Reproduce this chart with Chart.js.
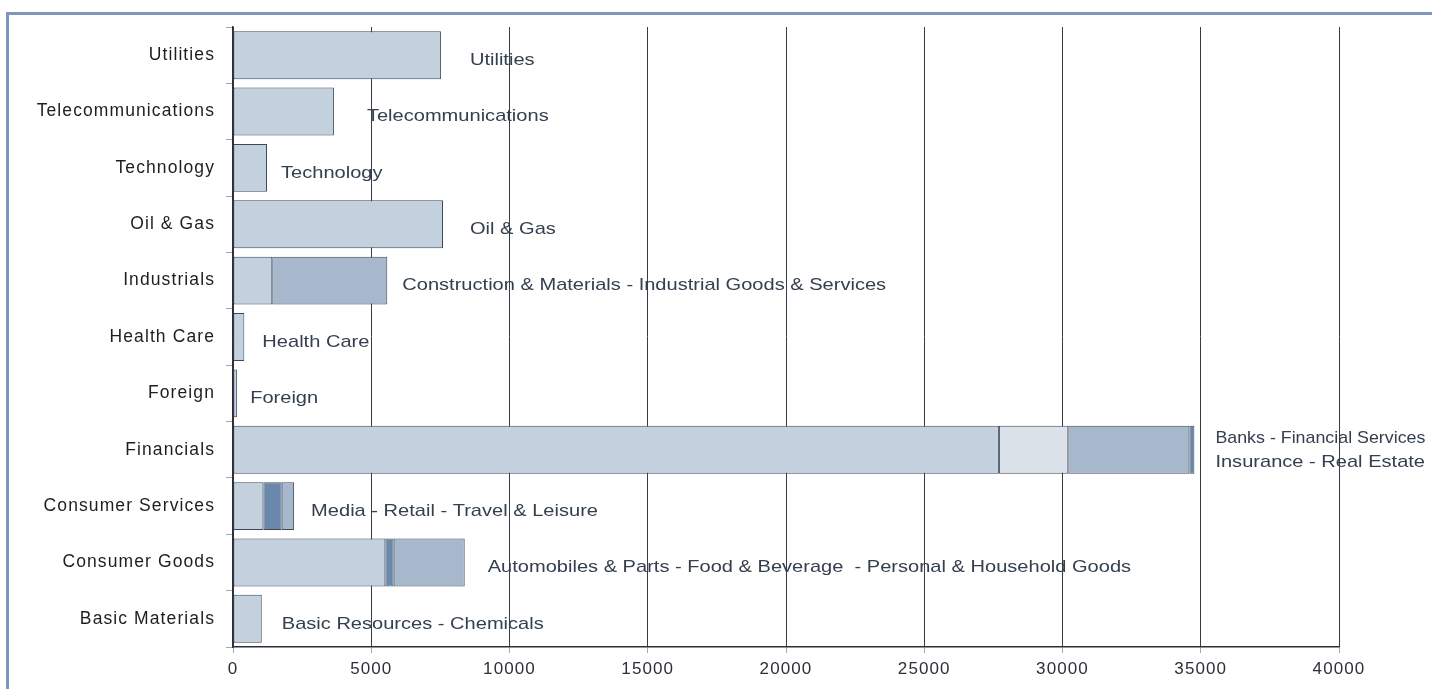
<!DOCTYPE html>
<html>
<head>
<meta charset="utf-8">
<script src="https://cdn.jsdelivr.net/npm/chart.js@4/dist/chart.umd.min.js"></script>
<style>
  html, body { margin: 0; padding: 0; background: #ffffff; overflow: hidden; width: 1432px; height: 689px; }
  #wrap { position: relative; width: 1432px; height: 689px; }
  #frame { position: absolute; left: 6px; top: 12px; width: 3000px; height: 3000px;
           border-left: 3px solid #7f95bd; border-top: 3px solid #7f95bd; box-sizing: border-box; pointer-events: none; }
  canvas { position: absolute; left: 0; top: 0; }
</style>
</head>
<body>
<div id="wrap">
  <canvas id="c" width="1432" height="689" style="width:1432px;height:689px"></canvas>
  <div id="frame"></div>
</div>
<script>
// ---- data ----
const categories = ["Utilities", "Telecommunications", "Technology", "Oil & Gas", "Industrials",
  "Health Care", "Foreign", "Financials", "Consumer Services", "Consumer Goods", "Basic Materials"];
const segment1 = [7520, 3650, 1230, 7595, 1420, 410, 150, 27700, 1100, 5510, 1040];
const segment2 = [null, null, null, null, 4160, null, null, 2510, 660, 300, null];
const segment3 = [null, null, null, null, null, null, null, 4380, 450, 2570, null];
const segment4 = [null, null, null, null, null, null, null, 180, null, null, null];
const barLabels = ["Utilities", "Telecommunications", "Technology", "Oil & Gas",
  "Construction & Materials - Industrial Goods & Services", "Health Care", "Foreign",
  ["Banks - Financial Services", "Insurance - Real Estate"],
  "Media - Retail - Travel & Leisure",
  "Automobiles & Parts - Food & Beverage  - Personal & Household Goods",
  "Basic Resources - Chemicals"];
const xTickStep = 5000;
const xMax = 40000;

// ---- styles ----
const LIGHT = "#c3d0de", PALE = "#dbe2ea", MID = "#a7b7cc", DARK = "#6a88ab";
const seg2Colors = [MID, MID, MID, MID, MID, MID, MID, PALE, DARK, DARK, MID];
const seg3Colors = MID;
const seg4Colors = DARK;
const labelOffsets = [29, 33, 14, 27, 15, 18, 13, 21, 17, 23, 20];
const FONT = "'Liberation Sans', Arial, sans-serif";
const STRETCH = 1.18;

const ds = (data, color) => ({
  data: data, backgroundColor: color, borderColor: "#3c4859", borderWidth: 1,
  borderSkipped: false, stack: "s", barPercentage: 0.85, categoryPercentage: 1.0
});

const spacingPlugin = {
  id: "spacing",
  beforeDraw(chart) { chart.ctx.letterSpacing = "1.1px"; }
};

const labelPlugin = {
  id: "barLabels",
  afterDatasetsDraw(chart) {
    const ctx = chart.ctx;
    const xs = chart.scales.x, ys = chart.scales.y;
    ctx.save();
    ctx.letterSpacing = "0px";
    ctx.font = "17px " + FONT;
    ctx.fillStyle = "#34404f";
    ctx.textBaseline = "middle";
    ctx.textAlign = "left";
    categories.forEach((c, i) => {
      const total = [segment1, segment2, segment3, segment4].reduce((s, arr) => s + (arr[i] || 0), 0);
      const x = xs.getPixelForValue(total) + labelOffsets[i];
      const yc = ys.getPixelForValue(i);
      const lab = barLabels[i];
      const draw = (t, y, maxW) => {
        ctx.save();
        ctx.translate(x, y);
        ctx.scale(STRETCH, 1);
        if (maxW) ctx.fillText(t, 0, 0, maxW / STRETCH); else ctx.fillText(t, 0, 0);
        ctx.restore();
      };
      if (Array.isArray(lab)) {
        draw(lab[0], yc - 11.5, 210);
        draw(lab[1], yc + 12.5, 210);
      } else {
        draw(lab, yc + 5);
      }
    });
    ctx.restore();
  }
};

new Chart(document.getElementById("c"), {
  type: "bar",
  data: {
    labels: categories,
    datasets: [ds(segment1, LIGHT), ds(segment2, seg2Colors), ds(segment3, seg3Colors), ds(segment4, seg4Colors)]
  },
  options: {
    indexAxis: "y",
    responsive: false,
    animation: false,
    devicePixelRatio: 1,
    layout: { padding: { top: 27, right: 93, bottom: 0, left: 0 } },
    plugins: { legend: { display: false }, tooltip: { enabled: false } },
    scales: {
      x: {
        type: "linear", min: 0, max: xMax, stacked: true,
        ticks: { stepSize: xTickStep, color: "#2a2f38", font: { family: FONT, size: 17 }, padding: 6, maxRotation: 0,
                 callback: (v) => String(v) },
        grid: { color: "#363b45", lineWidth: 1, tickLength: 6, tickColor: "#a4a9b0" },
        border: { display: true, color: "#2a2f38", width: 1.5 },
        afterFit(s) { s.height = 42; }
      },
      y: {
        stacked: true,
        ticks: { color: "#1e1e1e", font: { family: FONT, size: 17.5 }, padding: 11 },
        grid: { drawOnChartArea: false, offset: true, tickLength: 7, color: "#a4a9b0" },
        border: { display: true, color: "#2a2f38", width: 1.5 },
        afterFit(s) { s.width = 233; }
      }
    }
  },
  plugins: [spacingPlugin, labelPlugin]
});
</script>
</body>
</html>
